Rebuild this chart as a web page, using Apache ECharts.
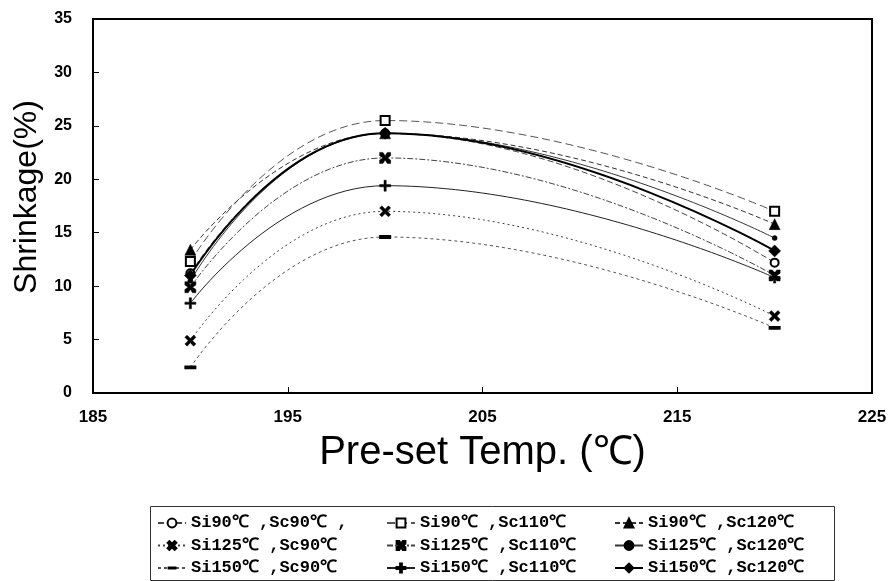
<!DOCTYPE html>
<html>
<head>
<meta charset="utf-8">
<script src="https://cdn.jsdelivr.net/npm/echarts@6/dist/echarts.min.js"></script>
<style>html,body{margin:0;padding:0;background:#fff;}#c{width:890px;height:581px;}</style>
</head>
<body>
<div id="c"></div>
<script>
// ---- data ----
const xTemps = [190, 200, 220];
const xTicks = [185, 195, 205, 215, 225];
const yTicks = [0, 5, 10, 15, 20, 25, 30, 35];

const si90sc90   = [11.2, 24.3, 12.2];
const si90sc110  = [12.3, 25.5, 17.0];
const si90sc120  = [13.4, 24.3, 15.8];
const si125sc90  = [4.9, 17.0, 7.2];
const si125sc110 = [9.9, 22.0, 11.0];
const si125sc120 = [10.5, 24.3, 14.5];
const si150sc90  = [2.4, 14.6, 6.1];
const si150sc110 = [8.4, 19.4, 10.8];
const si150sc120 = [11.0, 24.3, 13.3];

const names = [
  'Si90℃ ,Sc90℃ ,', 'Si90℃ ,Sc110℃', 'Si90℃ ,Sc120℃',
  'Si125℃ ,Sc90℃', 'Si125℃ ,Sc110℃', 'Si125℃ ,Sc120℃',
  'Si150℃ ,Sc90℃', 'Si150℃ ,Sc110℃', 'Si150℃ ,Sc120℃'
];

// ---- symbols & styles ----
const SYM_X = 'path://M0,2L2,0L5,3L8,0L10,2L7,5L10,8L8,10L5,7L2,10L0,8L3,5Z';
const SYM_BOW = 'path://M0,0H3L5,3L7,0H10V3L7,5L10,7V10H7L5,7L3,10H0V7L3,5L0,3Z';
const SYM_PLUS = 'path://M4,0H6V4H10V6H6V10H4V6H0V4H4Z';
const SYM_DASH = 'path://M0,0L0.01,0L0.01,0.01Z M0,3.4H10V6.6H0Z M9.99,9.99L10,10L9.99,10Z';

function mk(name, vals, symbol, size, line, empty, bw) {
  return {
    name: name,
    type: 'line',
    smooth: 0.5,
    data: xTemps.map((x, i) => [x, vals[i]]),
    symbol: symbol,
    symbolSize: size,
    itemStyle: empty ? { color: '#fff', borderColor: '#000', borderWidth: 2 }
                     : { color: '#000', borderColor: '#000', borderWidth: bw == null ? 0.5 : bw },
    lineStyle: Object.assign({ color: '#000', width: 1 }, line),
    emphasis: { disabled: true },
    z: 3
  };
}

const series = [
  mk(names[0], si90sc90, 'circle', 8, { type: [6, 3], color: '#444' }, true),
  mk(names[1], si90sc110, 'rect', 9, { type: [8, 4], color: '#555' }, true),
  mk(names[2], si90sc120, 'triangle', 11, { type: [5, 3], color: '#333' }),
  mk(names[3], si125sc90, SYM_X, 11, { type: [2, 3], color: '#444' }),
  mk(names[4], si125sc110, SYM_BOW, 11, { type: [6, 2, 2, 2], color: '#444' }),
  mk(names[5], si125sc120, 'circle', 5, { type: 'solid', color: '#333' }),
  mk(names[6], si150sc90, SYM_DASH, 12, { type: [3, 3], color: '#555' }, false, 0),
  mk(names[7], si150sc110, SYM_PLUS, 11, { type: 'solid', color: '#222' }),
  mk(names[8], si150sc120, 'diamond', 12, { type: 'solid', width: 2, color: '#000' })
];

const legendText = {
  fontFamily: 'Liberation Mono', fontWeight: 'bold', fontSize: 17, color: '#000', lineHeight: 18
};
function leg(left, idxs) {
  return {
    orient: 'vertical', left: left, top: 514, padding: 0,
    itemWidth: 28, itemHeight: 11, itemGap: 4.5,
    textStyle: legendText,
    selectedMode: false,
    data: idxs.map(i => names[i])
  };
}

const chart = echarts.init(document.getElementById('c'), null, { renderer: 'canvas' });
chart.setOption({
  animation: false,
  backgroundColor: '#fff',
  grid: { left: 93, right: 18, top: 19, bottom: 188, show: true, borderColor: '#000', borderWidth: 2 },
  xAxis: {
    type: 'value', min: xTicks[0], max: xTicks[xTicks.length - 1], interval: 10,
    axisLine: { lineStyle: { color: '#000', width: 2 } },
    axisTick: { inside: true, length: 6, lineStyle: { color: '#000' } },
    splitLine: { show: false },
    axisLabel: { margin: 16, fontFamily: 'Liberation Sans', fontWeight: 'bold', fontSize: 17, color: '#000' },
    name: 'Pre-set Temp. (℃)', nameLocation: 'middle', nameGap: 40,
    nameTextStyle: { fontFamily: 'Liberation Sans', fontSize: 40, color: '#000' }
  },
  yAxis: {
    type: 'value', min: yTicks[0], max: yTicks[yTicks.length - 1], interval: 5,
    axisLine: { show: true, lineStyle: { color: '#000', width: 2 } },
    axisTick: { show: true, inside: true, length: 6, lineStyle: { color: '#000' } },
    splitLine: { show: false },
    axisLabel: { margin: 21, fontFamily: 'Liberation Sans', fontWeight: 'bold', fontSize: 16, color: '#000' },
    name: 'Shrinkage(%)', nameLocation: 'middle', nameGap: 50,
    nameTextStyle: { fontFamily: 'Liberation Sans', fontSize: 32, color: '#000', padding: [0, 0, 0, 18] }
  },
  legend: [leg(157, [0, 3, 6]), leg(386, [1, 4, 7]), leg(614, [2, 5, 8])],
  graphic: [{
    type: 'rect', left: 148, top: 504, silent: true,
    shape: { width: 684, height: 74 },
    style: { fill: 'none', stroke: '#333', lineWidth: 1 }
  }],
  series: series
});
</script>
</body>
</html>
